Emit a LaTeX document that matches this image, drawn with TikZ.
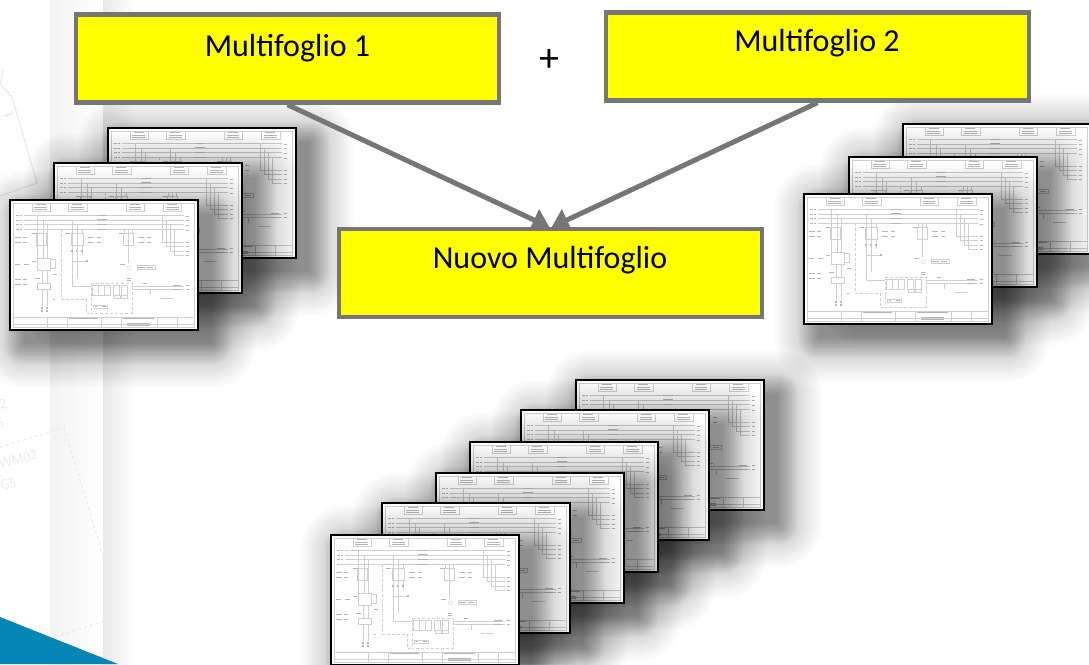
\documentclass[tikz,border=0pt]{standalone}
\usepackage{fontspec}
\setmainfont{Carlito}
\usetikzlibrary{arrows.meta,calc}
\definecolor{boxgray}{HTML}{767676}
\definecolor{boxyellow}{HTML}{FFFF00}
\definecolor{bandblue}{HTML}{0686B6}
\definecolor{faint}{HTML}{E9E9E9}
\definecolor{ink}{HTML}{CFCFCF}
\definecolor{blob}{HTML}{B5B5B5}
\tikzset{
  yellowbox/.style={draw=boxgray,line width=4.4pt,fill=boxyellow,minimum width=423pt,minimum height=88pt,inner sep=0pt},
  boxlabel/.style={font=\fontsize{32}{34}\selectfont,inner sep=0pt},
  flow/.style={draw=boxgray,line width=5pt,-{Triangle[length=17pt,width=23pt]},shorten >=-1pt},
  plan/.style={draw=faint,line width=1pt},
  plantext/.style={text=faint,font=\fontsize{14}{15}\selectfont\sffamily,rotate=15,inner sep=0pt},
  ln/.style={draw=ink,line width=.3pt},
  bl/.style={fill=blob,draw=none},
}
% sheet: #1 left, #2 top (reference pixels)
\newcommand{\shadowsheet}[2]{%
  \foreach \e in {22,24,...,44}{%
    \fill[black,opacity=.010,rounded corners=\e pt] ({#1+14-\e},{#2+14-\e}) rectangle ({#1+188+14+\e},{#2+130+14+\e});
  }%
  \foreach \e in {0,2,...,20}{%
    \fill[black,opacity=.034,rounded corners=\e pt] ({#1+14-\e},{#2+14-\e}) rectangle ({#1+188+14+\e},{#2+130+14+\e});
  }%
}
\newcommand{\sheetbody}[2]{%
  \fill[white] (#1,#2) rectangle ({#1+188},{#2+130});
  \begin{scope}[shift={(#1-10,#2-10)},x=.3333pt,y=-.3333pt]
    % inner frame and title rows
    \draw[ln] (40,38) rectangle (582,412);
    \draw[ln] (40,382) -- (582,382);
    \foreach \a in {95,205,378,490}{\draw[ln] (\a,40) rectangle +(55,24);
      \fill[bl] (\a+12,43) rectangle +(30,3); \fill[bl] (\a+8,50) rectangle +(38,2); \fill[bl] (\a+8,56) rectangle +(38,2);}
    \foreach \a in {140,200,302,362,472,530}{\draw[ln] (\a,382) -- (\a,412);}
    \draw[ln] (40,402) -- (582,402);
    \fill[bl] (208,385) rectangle (295,388);
    \fill[bl] (370,385) rectangle (462,388);
    \fill[bl] (382,400) rectangle (450,403);
    \fill[bl] (382,406) rectangle (450,408);
    % supply lines
    \foreach \a in {76,90,103,118}{\draw[ln] (72,\a) -- (552,\a);
      \fill[bl] (60,\a-1) rectangle +(7,3); \fill[bl] (558,\a+1) rectangle +(8,3);
      \fill[bl] (48,\a-1) rectangle +(9,1.5);\fill[bl] (292,\a-2) rectangle +(30,1.5);}
    % left motor
    \draw[ln] (112,76) -- (112,205) (130,90) -- (130,205) (142,103) -- (142,205);
    \draw[ln] (108,130) rectangle (138,165);
    \draw[ln] (112,205) rectangle (150,240);
    \draw[ln] (150,208) rectangle (165,235);
    \draw[ln] (112,278) rectangle (150,296);
    \draw[ln] (125,240) -- (125,278) (140,240) -- (140,278);
    \draw[ln] (125,296) -- (125,348) (140,296) -- (140,348);
    \fill[bl] (124,350) rectangle (128,356);\fill[bl] (139,350) rectangle (143,356);
    \fill[bl] (124,361) rectangle (128,366);\fill[bl] (139,361) rectangle (143,366);
    \fill[bl] (44,141) rectangle +(18,2);\fill[bl] (70,141) rectangle +(10,2);
    \fill[bl] (44,155) rectangle +(18,2);\fill[bl] (70,155) rectangle +(10,2);
    \fill[bl] (44,222) rectangle +(16,2);\fill[bl] (72,222) rectangle +(16,2);
    \fill[bl] (44,268) rectangle +(18,2);\fill[bl] (70,268) rectangle +(10,2);
    \fill[bl] (44,282) rectangle +(18,2);\fill[bl] (70,282) rectangle +(10,2);
    \fill[bl] (95,130) rectangle +(12,2);\fill[bl] (95,212) rectangle +(12,2);\fill[bl] (105,265) rectangle +(14,2);
    \fill[bl] (158,251) rectangle +(14,3);\fill[bl] (158,328) rectangle +(8,3);
    % second branch
    \draw[ln] (216,90) -- (216,288) -- (272,288) (230,103) -- (230,265) (246,118) -- (246,130);
    \draw[ln] (212,130) rectangle (250,165);
    \draw[ln] (216,165) -- (216,195) (230,165) -- (230,195) (246,165) -- (246,195);
    \draw[ln] (216,212) -- (258,212);
    \fill[bl] (214,180) rectangle +(4,5);\fill[bl] (228,180) rectangle +(4,5);\fill[bl] (244,180) rectangle +(4,5);
    \fill[bl] (265,141) rectangle +(18,2);\fill[bl] (292,141) rectangle +(12,2);
    \fill[bl] (265,155) rectangle +(18,2);\fill[bl] (292,155) rectangle +(12,2);
    \fill[bl] (195,130) rectangle +(14,2);\fill[bl] (258,210) rectangle +(5,5);
    % third branch
    \draw[ln] (372,118) -- (372,130) (385,118) -- (385,220) (395,118) -- (395,130);
    \draw[ln] (368,130) rectangle (400,165);
    \draw[ln] (388,234) circle (2pt);
    \fill[bl] (380,264) rectangle +(12,3);\fill[bl] (380,269) rectangle +(12,3);
    \fill[bl] (415,141) rectangle +(18,2);\fill[bl] (442,141) rectangle +(12,2);
    \fill[bl] (415,155) rectangle +(18,2);\fill[bl] (442,155) rectangle +(12,2);
    \fill[bl] (415,230) rectangle +(20,2);\fill[bl] (442,230) rectangle +(18,2);
    \fill[bl] (358,130) rectangle +(12,2);\fill[bl] (360,222) rectangle +(14,2);
    \draw[ln] (410,226) rectangle (464,238);
    % right tap lines
    \draw[ln] (485,76) -- (485,155) -- (552,155) (498,90) -- (498,168) -- (552,168) (510,103) -- (510,183) -- (552,183) (522,118) -- (522,196) -- (552,196);
    \foreach \a in {155,168,183,196}{\fill[bl] (558,\a) rectangle +(8,3);}
    % bottom PLC block
    \draw[ln,densely dashed] (272,278) rectangle (395,370);
    \draw[ln,densely dashed] (182,118) -- (182,328) -- (258,328) -- (258,370) -- (272,370);
    \foreach \a in {275,295,313,338,362}{\draw[ln] (\a,285) rectangle +(18,30);}
    \draw[ln] (342,315) rectangle +(18,10);\draw[ln] (362,315) rectangle +(18,10);
    \draw[ln] (280,345) rectangle (322,354);
    \fill[bl] (284,348) rectangle +(8,2);\fill[bl] (306,348) rectangle +(12,2);
    \draw[ln] (395,288) -- (552,288) (395,298) -- (552,298);
    \fill[bl] (428,278) rectangle +(14,2);\fill[bl] (520,284) rectangle +(22,2);\fill[bl] (520,296) rectangle +(22,2);
    \fill[bl] (558,285) rectangle +(8,3);\fill[bl] (558,296) rectangle +(8,3);
    \draw[ln] (480,325) -- (520,325);
    \draw[ln] (450,298) -- (450,315);
  \end{scope}
  \draw[black,line width=2.6pt] (#1,#2) rectangle ({#1+188},{#2+130});
}
\newcommand{\sheet}[2]{\shadowsheet{#1}{#2}\sheetbody{#1}{#2}}
\begin{document}
\begin{tikzpicture}[x=1pt,y=-1pt]
  \useasboundingbox (0,0) rectangle (1089,664);
  \clip (0,0) rectangle (1089,664);
  \fill[white] (0,0) rectangle (1089,664);
  % background bands
  \shade[left color=faint!55,right color=white] (50,0) rectangle (103,664);
  \shade[left color=faint,right color=white] (103,0) rectangle (135,664);
  % faint plan behind
  \draw[plan] (0,84) -- (3,70) (0,84) -- (12,97) -- (37,183) -- (0,196);
  \draw[plan,line width=1.5pt] (5,116) -- (13,113);
  \draw[plan,dashed] (0,447) -- (64,428) -- (103,555);
  \draw[plan,dashed] (55,636) -- (103,622);
  \node (wm) [plantext] at (18,459) {WM02};
  \node (gfive) [plantext] at (8,484) {G5};
  \node (ntwo) [plantext] at (3,404) {2};
  \node (nfive) [plantext] at (0,423) {5};
  \fill[bandblue] (0,617) -- (118,664) -- (0,664) -- cycle;
  % sheet groups
  \sheet{108}{128}\sheet{54}{163}\sheet{10}{200}
  \sheet{903}{124}\sheet{849}{157}\sheet{804}{194}
  \sheet{576}{380}\sheet{521}{410}\sheet{470}{442}\sheet{436}{473}\sheet{382}{503}\sheet{331}{535}
  % connectors and boxes
  \node[yellowbox] (m1) at (287.5,58.5) {};
  \node[yellowbox] (m2) at (817.5,56.5) {};
  \node[yellowbox] (nm) at (550.5,273) {};
  \coordinate (nml) at ($(nm.north)+(-2,0)$);
  \coordinate (nmr) at ($(nm.north)+(2,0)$);
  \draw[flow] (m1.south) -- (nml);
  \draw[flow] (m2.south) -- (nmr);
  \node[boxlabel] (m1t) at (287.5,48) {Multifoglio 1};
  \node[boxlabel] (m2t) at (817,43) {Multifoglio 2};
  \node[boxlabel] (nmt) at (550,260) {Nuovo Multifoglio};
  \node[font=\fontsize{40}{42}\selectfont,inner sep=0pt] (plus) at (549,61) {+};
\end{tikzpicture}
\end{document}
